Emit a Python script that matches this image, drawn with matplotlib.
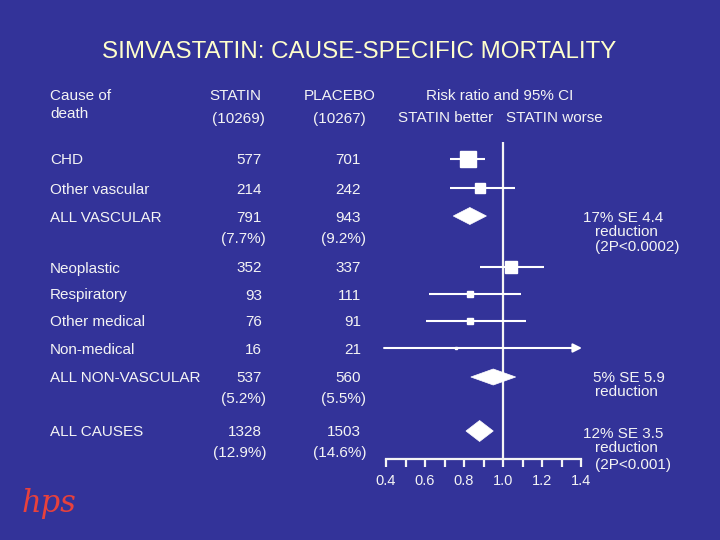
import numpy as np
import matplotlib
matplotlib.use("Agg")
import matplotlib.pyplot as plt
from matplotlib.patches import Polygon
from matplotlib.ticker import FixedLocator

# ---------------- data ----------------
causes = ["CHD", "Other vascular", "ALL VASCULAR", "Neoplastic", "Respiratory",
          "Other medical", "Non-medical", "ALL NON-VASCULAR", "ALL CAUSES"]
statin_deaths = [577, 214, 791, 352, 93, 76, 16, 537, 1328]
placebo_deaths = [701, 242, 943, 337, 111, 91, 21, 560, 1503]
statin_pct = [None, None, "(7.7%)", None, None, None, None, "(5.2%)", "(12.9%)"]
placebo_pct = [None, None, "(9.2%)", None, None, None, None, "(5.5%)", "(14.6%)"]
is_subtotal = [False, False, True, False, False, False, False, True, True]
risk_ratio = [0.82, 0.88, 0.83, 1.04, 0.83, 0.83, 0.76, 0.95, 0.88]
ci_low = [0.73, 0.73, 0.745, 0.88, 0.62, 0.605, 0.39, 0.835, 0.81]
ci_high = [0.91, 1.06, 0.915, 1.21, 1.09, 1.12, 1.60, 1.065, 0.95]
reduction_notes = {
    2: ["17% SE 4.4", "reduction", "(2P<0.0002)"],
    7: ["5% SE 5.9", "reduction"],
    8: ["12% SE 3.5", "reduction", "(2P<0.001)"],
}
tick_values = [0.4, 0.6, 0.8, 1.0, 1.2, 1.4]
tick_labels = ["0.4", "0.6", "0.8", "1.0", "1.2", "1.4"]
minor_ticks = [0.5, 0.7, 0.9, 1.1, 1.3]

title = "SIMVASTATIN: CAUSE-SPECIFIC MORTALITY"

# ---------------- layout / style ----------------
BG = "#333399"
FG = "#f4f4f4"
TITLE_C = "#ffffcc"
row_y = [159, 188, 216, 267, 294, 321, 348, 377, 431]   # pixel rows
pct_dy = 21
diamond_half_h = {2: 8.5, 7: 8, 8: 10.5}
note_y = {2: [217, 231, 245], 7: [376, 391], 8: [432, 447, 463]}
note_x = {2: [583, 595, 595], 7: [593, 595], 8: [583, 595, 595]}
FS = 11

plt.rcParams["font.family"] = ["Liberation Sans", "DejaVu Sans"]

fig = plt.figure(figsize=(7.2, 5.4), dpi=100, facecolor=BG)

bg = fig.add_axes([0, 0, 1, 1])
bg.set_xlim(0, 720)
bg.set_ylim(540, 0)
bg.axis("off")
bg.set_facecolor(BG)


def txt(x, yc, s, ha="left", fs=FS, color=FG, **kw):
    # yc = visual centre of capitals; place by baseline
    cap = 0.72 * fs * 100 / 72
    bg.text(x, yc + cap / 2, s, ha=ha, va="baseline", fontsize=fs,
            color=color, **kw)


# title
txt(359, 49, title, ha="center", fs=17.4, color=TITLE_C)

# headers
txt(50, 95, "Cause of")
txt(50, 112, "death")
txt(235, 95, "STATIN", ha="center")
txt(238, 117, "(10269)", ha="center")
txt(340, 95, "PLACEBO", ha="center")
txt(339, 117, "(10267)", ha="center")
txt(500, 95, "Risk ratio and 95% CI", ha="center")
txt(398, 117, "STATIN better   STATIN worse", ha="left")

# table body
for i, name in enumerate(causes):
    y = row_y[i]
    txt(50, y, name)
    txt(262, y, str(statin_deaths[i]), ha="right")
    txt(361, y, str(placebo_deaths[i]), ha="right")
    if statin_pct[i]:
        txt(266, y + pct_dy, statin_pct[i], ha="right")
        txt(366, y + pct_dy, placebo_pct[i], ha="right")

for i, lines in reduction_notes.items():
    for s, xx, yy in zip(lines, note_x[i], note_y[i]):
        txt(xx, yy, s)

# logo
bg.text(22, 512, "hps", fontsize=22, color="#e8413c", family="DejaVu Serif",
        style="italic", va="baseline", ha="left")

# ---------------- forest plot ----------------
ax = fig.add_axes([386 / 720, 0, 195 / 720, 1])
ax.set_xlim(0.4, 1.4)
ax.set_ylim(540, 0)
ax.patch.set_alpha(0)
for s in ["top", "left", "right"]:
    ax.spines[s].set_visible(False)
ax.spines["bottom"].set_position(("data", 459))
ax.spines["bottom"].set_color(FG)
ax.spines["bottom"].set_linewidth(1.6)
ax.yaxis.set_visible(False)
ax.xaxis.set_major_locator(FixedLocator(tick_values))
ax.xaxis.set_minor_locator(FixedLocator(minor_ticks))
ax.set_xticklabels(tick_labels)
ax.tick_params(axis="x", which="both", direction="out", length=6, width=1.6,
               color=FG, labelcolor=FG, labelsize=10.5, pad=5)

ax.vlines(1.0, 142, 459, color=FG, lw=1.6)

for i in range(len(causes)):
    y = row_y[i]
    if is_subtotal[i]:
        h = diamond_half_h[i]
        poly = Polygon([(ci_low[i], y), (risk_ratio[i], y - h),
                        (ci_high[i], y), (risk_ratio[i], y + h)],
                       closed=True, facecolor="white", edgecolor="white",
                       lw=0.5, clip_on=False, zorder=3)
        ax.add_patch(poly)
    else:
        events = statin_deaths[i] + placebo_deaths[i]
        size_px = 0.45 * np.sqrt(events)
        hi = ci_high[i]
        if hi > 1.4:
            ax.annotate("", xy=(1.405, y), xytext=(ci_low[i], y),
                        arrowprops=dict(arrowstyle="-|>", color="white",
                                        lw=1.5, mutation_scale=13,
                                        shrinkA=0, shrinkB=0),
                        annotation_clip=False)
        else:
            ax.plot([ci_low[i], hi], [y, y], color="white", lw=1.5,
                    clip_on=False, solid_capstyle="butt")
        ax.plot(risk_ratio[i], y, marker="s", color="white",
                markersize=size_px * 72 / 100, clip_on=False, zorder=3)

fig.savefig("out.png", dpi=100, facecolor=BG)
